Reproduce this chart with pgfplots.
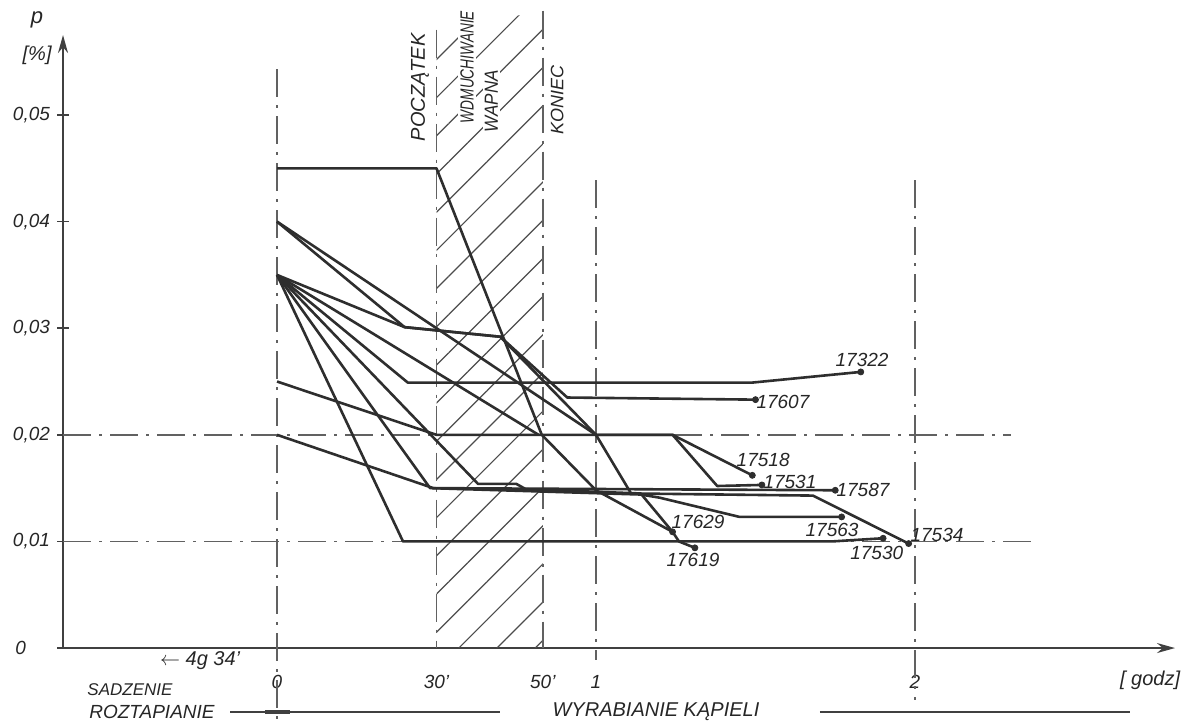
\documentclass[border=0pt]{standalone}
\usepackage{pgfplots}
\pgfplotsset{compat=1.18}
\usepackage{fontspec}
\setmainfont{Liberation Sans}
\usetikzlibrary{patterns.meta,arrows.meta}
\begin{document}
\begin{tikzpicture}[
  lab/.style={font=\itshape\fontsize{9.5}{10}\selectfont, text=black!85, inner sep=1pt},
  big/.style={font=\itshape\fontsize{10}{11}\selectfont, text=black!85, inner sep=1pt},
  refl/.style={line width=0.8pt, black!62, dash pattern=on 14pt off 4pt on 1.5pt off 4pt},
  ser/.style={line width=1.3pt, black!82, line join=round},
]
\begin{axis}[
  scale only axis, width=556pt, height=306.5pt,
  xmin=-0.6708, xmax=2.815, ymin=0, ymax=0.0575,
  axis lines=left,
  axis line style={line width=0.9pt, black!75, -{Stealth[length=9pt,width=5pt]}},
  clip=false,
  scaled y ticks=false,
  xtick={0,0.5,0.8333,1,2}, xticklabels={0,30',50',1,2},
  x tick style={draw=none},
  xticklabel style={yshift=-7pt},
  ytick={0,0.01,0.02,0.03,0.04,0.05},
  yticklabels={{0\hspace*{12pt}},{0,01},{0,02},{0,03},{0,04},{0,05}},
  y tick style={line width=0.8pt, black!75},
  tick align=center, major tick length=6pt,
  tick label style={font=\itshape\fontsize{9.5}{10}\selectfont, text=black!85},
]
% hatched lime-blowing period
\addplot[draw=none, pattern={Lines[angle=45,distance=13.5pt,line width=0.6pt]}, pattern color=black!70]
  coordinates {(0.5,0) (0.8333,0) (0.8333,0.0598) (0.5,0.0578)} -- cycle;
% reference lines
\addplot[refl] coordinates {(0,0.0543) (0,-0.0072)};
\addplot[refl] coordinates {(0.5,0.0580) (0.5,0)};
\addplot[refl] coordinates {(0.8333,0.0598) (0.8333,0)};
\addplot[refl] coordinates {(1,0.0439) (1,-0.0011)};
\addplot[refl] coordinates {(2,0.0439) (2,-0.0049)};
\addplot[refl] coordinates {(-0.6708,0.02) (2.30,0.02)};
\addplot[refl] coordinates {(-0.6708,0.01) (2.38,0.01)};
% series
\addplot[ser] coordinates {(0,0.035) (0.41,0.0249) (1.49,0.0249) (1.83,0.0259)}; % 17322
\addplot[ser] coordinates {(0,0.040) (0.40,0.0301) (0.70,0.0292) (0.91,0.0235) (1.50,0.0233)}; % 17607
\addplot[ser] coordinates {(0,0.035) (0.40,0.0301) (0.70,0.0292) (1.0,0.0200) (1.24,0.0200) (1.49,0.0162)}; % 17518
\addplot[ser] coordinates {(0,0.045) (0.5,0.045) (0.83,0.0200) (1.0,0.0148) (1.24,0.0109)}; % 17629
\addplot[ser] coordinates {(0,0.025) (0.5,0.0200) (1.24,0.0200) (1.38,0.0152) (1.52,0.0153)}; % 17531
\addplot[ser] coordinates {(0,0.020) (0.49,0.0150) (1.75,0.0148)}; % 17587
\addplot[ser] coordinates {(0,0.035) (0.395,0.0100) (1.74,0.0100) (1.90,0.0103)}; % 17530
\addplot[ser] coordinates {(0,0.040) (1.0,0.0200) (1.11,0.0145) (1.68,0.0143) (1.98,0.0098)}; % 17534
\addplot[ser] coordinates {(0,0.035) (0.48,0.0150) (1.14,0.0144) (1.20,0.0141) (1.45,0.0123) (1.77,0.0123)}; % 17563
\addplot[ser] coordinates {(0,0.035) (0.63,0.0154) (0.75,0.0154) (0.78,0.0149) (1.14,0.0145) (1.24,0.0109) (1.26,0.0100) (1.31,0.0094)}; % 17619
\addplot[ser] coordinates {(0,0.035) (0.82,0.0200)};
% end points
\addplot[only marks, mark=*, mark size=1.5pt, black!82] coordinates {(1.83,0.0259) (1.50,0.0233) (1.49,0.0162) (1.52,0.0153) (1.75,0.0148) (1.24,0.0109) (1.77,0.0123) (1.98,0.0098) (1.90,0.0103) (1.31,0.0094)};
% series labels
\node[lab] at (axis cs:1.834,0.0270) {17322};
\node[lab] at (axis cs:1.586,0.0231) {17607};
\node[lab] at (axis cs:1.524,0.0176) {17518};
\node[lab] at (axis cs:1.608,0.0156) {17531};
\node[lab] at (axis cs:1.837,0.0148) {17587};
\node[lab] at (axis cs:1.320,0.0118) {17629};
\node[lab] at (axis cs:1.740,0.0111) {17563};
\node[lab] at (axis cs:1.880,0.0089) {17530};
\node[lab] at (axis cs:1.304,0.0083) {17619};
\node[lab] at (axis cs:2.069,0.0106) {17534};
% vertical annotations
\node[big, rotate=90, fill=white] at (axis cs:0.448,0.0526) {POCZĄTEK};
\node[lab, rotate=90, fill=white] at (axis cs:0.596,0.0545) {\scalebox{0.72}[1]{WDMUCHIWANIE}};
\node[lab, rotate=90, fill=white] at (axis cs:0.672,0.0513) {\scalebox{0.9}[1]{WAPNA}};
\node[big, rotate=90, fill=white, font=\itshape\fontsize{9}{10}\selectfont] at (axis cs:0.878,0.0514) {KONIEC};
% axis titles
\node[big, font=\itshape\fontsize{11}{12}\selectfont] at (axis cs:-0.752,0.0589) {p};
\node[big] at (axis cs:-0.752,0.0556) {[\%]};
\node[big] at (axis cs:2.737,-0.0030) {[ godz]};
\node[big] at (axis cs:-0.241,-0.0012) {$\leftarrow$ 4g 34'};
\node[lab, font=\itshape\fontsize{8.5}{9}\selectfont] at (axis cs:-0.461,-0.0039) {SADZENIE};
\node[lab] at (axis cs:-0.392,-0.0060) {ROZTAPIANIE};
\node[big] at (axis cs:1.188,-0.0060) {WYRABIANIE KĄPIELI};
\addplot[line width=0.8pt, black!75] coordinates {(-0.147,-0.0060) (0.699,-0.0060)};
\addplot[line width=2pt, black!75] coordinates {(-0.038,-0.0060) (0.041,-0.0060)};
\addplot[line width=0.8pt, black!75] coordinates {(1.702,-0.0060) (2.674,-0.0060)};
\coordinate (bl) at (axis cs:-0.86834,-0.007223);
\coordinate (tr) at (axis cs:2.88401,0.060788);
\end{axis}
\pgfresetboundingbox
\path[use as bounding box] (bl) rectangle (tr);
\end{tikzpicture}
\end{document}
